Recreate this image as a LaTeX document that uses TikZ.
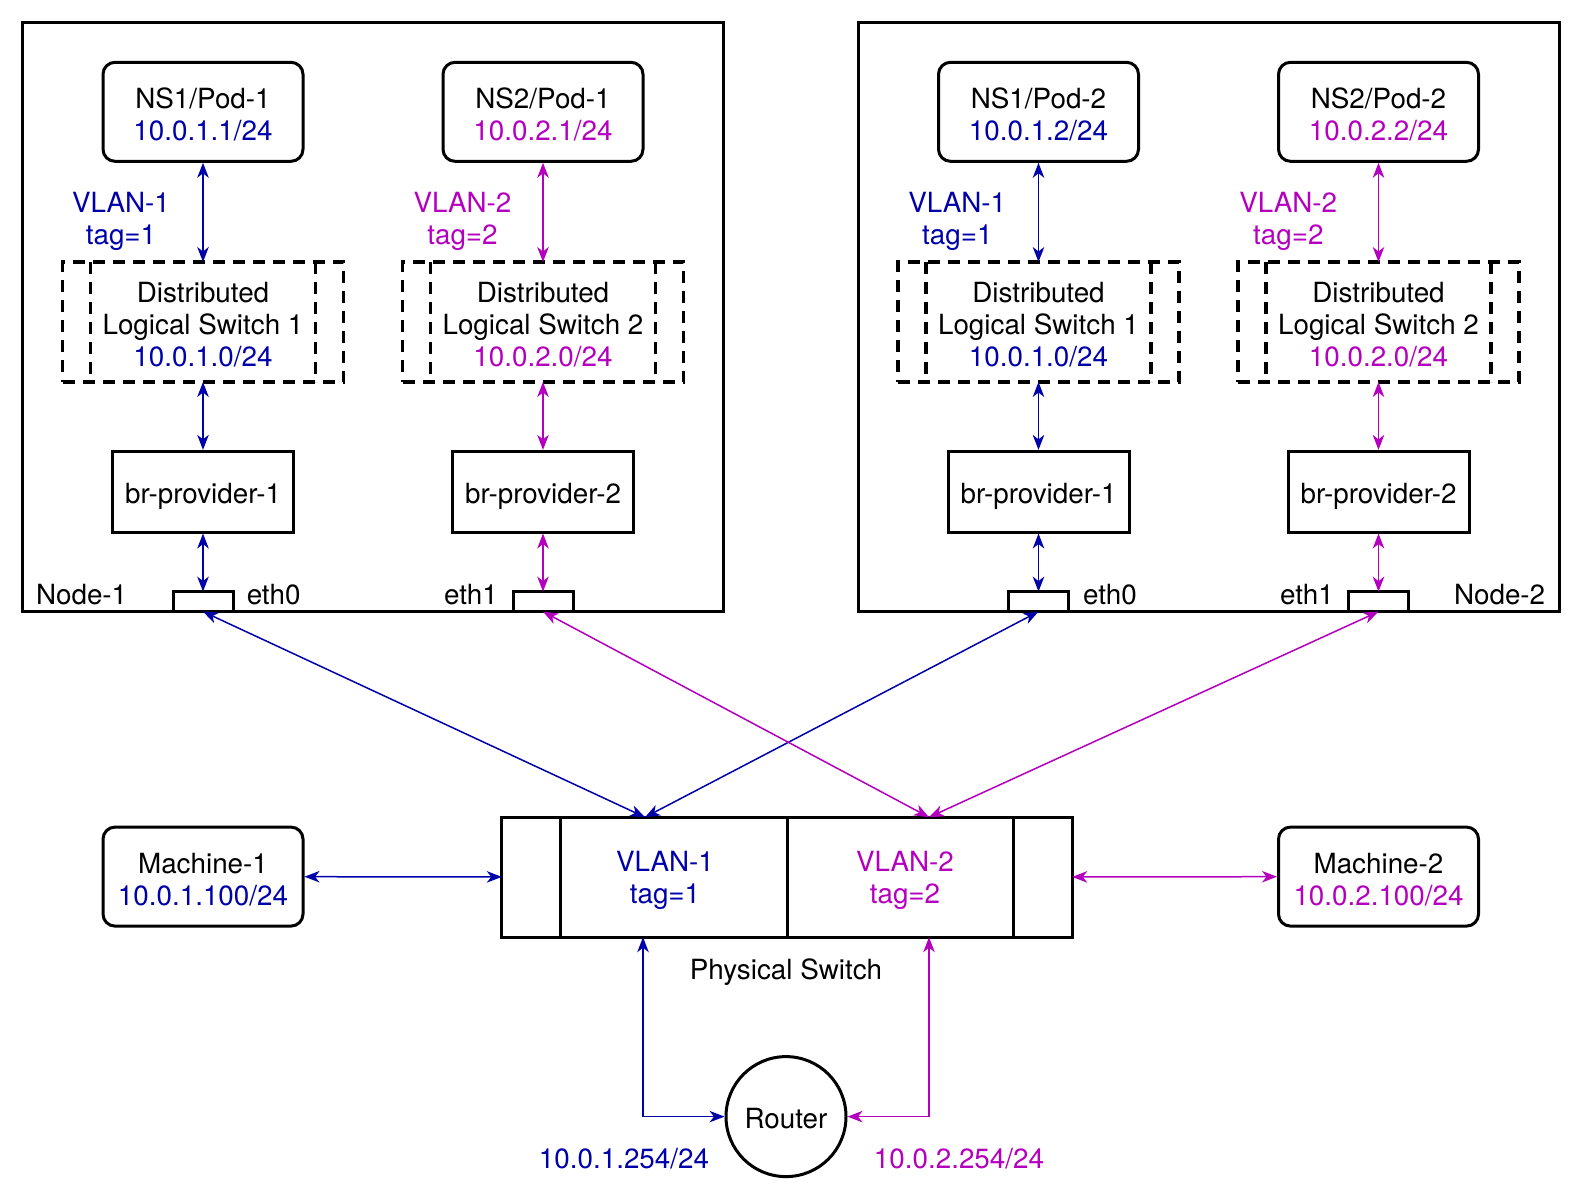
\documentclass[tikz,border=0pt]{standalone}
\usepackage{fontspec}
\setmainfont{TeX Gyre Heros}
\usetikzlibrary{positioning, arrows.meta}
\definecolor{vblue}{RGB}{0,0,170}
\definecolor{vmag}{RGB}{180,0,190}
\tikzset{
    textdrop/.style={execute at begin node={\rule{0pt}{#1}}},
    host/.style={draw, line width=3pt, minimum width=701.3pt, minimum height=589.5pt},
    pod/.style={draw, line width=3pt, rounded corners=12pt, minimum width=200pt, minimum height=99pt, align=center, textdrop=58.7pt},
    dls/.style={draw, line width=3.2pt, dash pattern=on 12pt off 8pt, minimum width=281pt, minimum height=120pt, align=center, outer sep=0pt, textdrop=90.4pt},
    bridge/.style={draw, line width=3pt, minimum width=181pt, minimum height=80.6pt, textdrop=30pt},
    port/.style={draw, line width=3pt, fill=white, minimum width=60pt, minimum height=20pt, inner sep=0pt, outer sep=0pt},
    link/.style={<->, line width=1.5pt, >={Stealth[length=15pt, width=11.5pt, inset=4.5pt]}},
}

\begin{document}
\begin{tikzpicture}[x=1pt, y=-1pt, font=\fontsize{27.8pt}{32.2pt}\selectfont]
        \useasboundingbox (0,0) rectangle (1580,1200);

        \node[host] (n1) at (372.9,316.9) {};
        \node[host] (n2) at (1209.3,316.9) {};

        \node[pod] (p11) at (203,111.8) {NS1/Pod-1\\\textcolor{vblue}{10.0.1.1/24}};
        \node[pod, right of=p11, node distance=340pt] (p12) {NS2/Pod-1\\\textcolor{vmag}{10.0.2.1/24}};
        \node[pod] (p21) at (1038.5,111.8) {NS1/Pod-2\\\textcolor{vblue}{10.0.1.2/24}};
        \node[pod, right of=p21, node distance=340pt] (p22) {NS2/Pod-2\\\textcolor{vmag}{10.0.2.2/24}};

        \node[dls, below of=p11, node distance=210.2pt] (d11) {Distributed\\Logical Switch 1\\\textcolor{vblue}{10.0.1.0/24}};
        \node[dls, below of=p12, node distance=210.2pt] (d12) {Distributed\\Logical Switch 2\\\textcolor{vmag}{10.0.2.0/24}};
        \node[dls, below of=p21, node distance=210.2pt] (d21) {Distributed\\Logical Switch 1\\\textcolor{vblue}{10.0.1.0/24}};
        \node[dls, below of=p22, node distance=210.2pt] (d22) {Distributed\\Logical Switch 2\\\textcolor{vmag}{10.0.2.0/24}};
        \foreach \d in {d11,d12,d21,d22}
            \draw[line width=3.2pt, dash pattern=on 12pt off 8pt]
                ([xshift=28pt]\d.north west) -- ([xshift=28pt]\d.south west)
                ([xshift=-28pt]\d.north east) -- ([xshift=-28pt]\d.south east);

        \node[bridge, below of=d11, node distance=169.7pt] (b11) {br-provider-1};
        \node[bridge, below of=d12, node distance=169.7pt] (b12) {br-provider-2};
        \node[bridge, below of=d21, node distance=169.7pt] (b21) {br-provider-1};
        \node[bridge, below of=d22, node distance=169.7pt] (b22) {br-provider-2};

        \node[port, below of=b11, node distance=109.9pt] (e11) {};
        \node[port, below of=b12, node distance=109.9pt] (e12) {};
        \node[port, below of=b21, node distance=109.9pt] (e21) {};
        \node[port, below of=b22, node distance=109.9pt] (e22) {};

        \node[anchor=base] (l1) at (81.6,604.5) {Node-1};
        \node[anchor=base] (l2) at (1499.6,604.5) {Node-2};
        \node[anchor=base] (l11) at (273.6,604.5) {eth0};
        \node[anchor=base] (l12) at (471,604.5) {eth1};
        \node[anchor=base] (l21) at (1110,604.5) {eth0};
        \node[anchor=base] (l22) at (1307,604.5) {eth1};

        \node[align=center, text=vblue] (t11) at (121,221) {VLAN-1\\tag=1};
        \node[align=center, text=vmag] (t12) at (462.5,221) {VLAN-2\\tag=2};
        \node[align=center, text=vblue] (t21) at (957.3,221) {VLAN-1\\tag=1};
        \node[align=center, text=vmag] (t22) at (1288.3,221) {VLAN-2\\tag=2};

        \draw[link, vblue] (p11) -- (d11);
        \draw[link, vblue] (d11) -- (b11);
        \draw[link, vblue] (b11) -- (e11);
        \draw[link, vmag] (p12) -- (d12);
        \draw[link, vmag] (d12) -- (b12);
        \draw[link, vmag] (b12) -- (e12);
        \draw[link, vblue] (p21) -- (d21);
        \draw[link, vblue] (d21) -- (b21);
        \draw[link, vblue] (b21) -- (e21);
        \draw[link, vmag] (p22) -- (d22);
        \draw[link, vmag] (d22) -- (b22);
        \draw[link, vmag] (b22) -- (e22);

        \node[draw, line width=3pt, minimum width=570.4pt, minimum height=120pt, outer sep=0pt] (sw) at (787,877.2) {};
        \foreach \x in {-226.7,0,226.7}
            \draw[line width=3pt] ([xshift=\x pt]sw.north) -- ([xshift=\x pt]sw.south);
        \node[align=center, text=vblue] (s1) at (665,880.5) {VLAN-1\\tag=1};
        \node[align=center, text=vmag] (s2) at (905,880.5) {VLAN-2\\tag=2};
        \node[anchor=base] (swl) at (786,979) {Physical Switch};

        \node[pod, textdrop=57pt] (m1) at (203,876.6) {Machine-1\\\textcolor{vblue}{10.0.1.100/24}};
        \node[pod, textdrop=57pt] (m2) at (1378.5,876.6) {Machine-2\\\textcolor{vmag}{10.0.2.100/24}};

        \node[draw, circle, line width=3pt, minimum size=120pt, inner sep=0pt, textdrop=24pt] (rt) at (786,1116.6) {Router};
        \node[anchor=base, text=vblue] (r1) at (624,1168) {10.0.1.254/24};
        \node[anchor=base, text=vmag] (r2) at (959,1168) {10.0.2.254/24};

        \coordinate (top1) at (645,817.2);
        \coordinate (top2) at (929,817.2);
        \coordinate (bot1) at (643,937.2);
        \coordinate (bot2) at (929,937.2);

        \draw[link, vblue] (e11.south) -- (top1);
        \draw[link, vblue] (e21.south) -- (top1);
        \draw[link, vmag] (e12.south) -- (top2);
        \draw[link, vmag] (e22.south) -- (top2);
        \draw[link, vblue] (m1) -- (sw);
        \draw[link, vmag] (sw) -- (m2);
        \draw[link, vblue] (bot1) |- (rt);
        \draw[link, vmag] (bot2) |- (rt);

    \end{tikzpicture}
\end{document}
